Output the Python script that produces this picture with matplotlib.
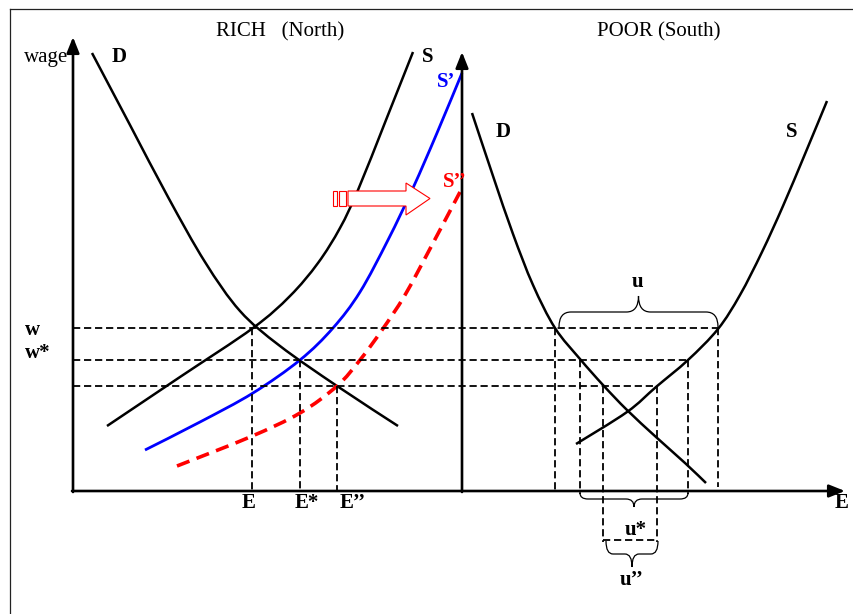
import matplotlib
matplotlib.use('Agg')
import matplotlib.pyplot as plt
import numpy as np
from matplotlib.path import Path
from matplotlib.patches import PathPatch, Polygon, Rectangle

plt.rcParams['font.family'] = ['Liberation Serif', 'DejaVu Serif']

# diagram units = pixels of the original drawing, y grows downward
W, H = 854, 614

# RICH (North) curves
rich_d_x = [92, 130, 168, 205, 240, 280, 337, 398]
rich_d_y = [53, 125, 197, 262, 311, 346, 386, 426]
rich_s_x = [107, 180, 253, 290, 318, 340, 358, 386, 413]
rich_s_y = [426, 377, 328, 296, 263, 228, 190, 120, 52]
rich_s1_x = [145, 200, 253, 300, 333, 360, 388, 413, 437, 462]
rich_s1_y = [450, 422, 393, 360, 328, 292, 240, 188, 133, 73]
rich_s2_x = [177, 250, 300, 337, 360, 382, 405, 432, 460]
rich_s2_y = [466, 437, 413, 386, 360, 330, 295, 245, 192]

# POOR (South) curves
poor_d_x = [472, 493, 513, 533, 555, 580, 603, 627, 656, 685, 706]
poor_d_y = [113, 176, 234, 285, 328, 359, 385, 410, 437, 463, 483]
poor_s_x = [576, 627, 656, 688, 718, 740, 762, 783, 805, 827]
poor_s_y = [444, 412, 387, 360, 329, 295, 252, 206, 154, 101]

# wage levels w, w*, w'' and the employment
wage_levels = [328, 360, 386]
rich_emp = [252, 300, 337]
south_demand_emp = [555, 580, 603]
south_supply_emp = [718, 688, 657]

# axes of the two panels
origin_x, origin_y = 73, 491
south_axis_x = 462
x_axis_end = 845
left_axis_top = 37
right_axis_top = 52

# shift arrow (outline)
shift_body = [(348, 191), (406, 191), (406, 183), (430, 198.5),
              (406, 215), (406, 206), (348, 206)]
shift_tail = [(333, 337), (339, 346)]


def curve(ax, xs, ys, **kw):
    """smooth line through the read points (Catmull-Rom as cubic Bezier)"""
    pts = np.column_stack([xs, ys]).astype(float)
    verts = [pts[0]]
    codes = [Path.MOVETO]
    n = len(pts)
    for i in range(n - 1):
        p0 = pts[max(i - 1, 0)]
        p1, p2 = pts[i], pts[i + 1]
        p3 = pts[min(i + 2, n - 1)]
        verts += [p1 + (p2 - p0) / 6.0, p2 - (p3 - p1) / 6.0, p2]
        codes += [Path.CURVE4] * 3
    ax.add_patch(PathPatch(Path(verts, codes), fc='none', joinstyle='round', **kw))


def brace(ax, x0, x1, y0, a, h, r, lw=0.9):
    """curly brace between x0 and x1, ends at y0, tip at y0 + h"""
    xm = (x0 + x1) / 2.0
    verts = [(x0, y0), (x0, y0 + a), (x0 + r, y0 + a),
             (xm - r, y0 + a),
             (xm, y0 + a), (xm, y0 + h),
             (xm, y0 + a), (xm + r, y0 + a),
             (x1 - r, y0 + a),
             (x1, y0 + a), (x1, y0)]
    codes = [Path.MOVETO, Path.CURVE3, Path.CURVE3,
             Path.LINETO,
             Path.CURVE3, Path.CURVE3,
             Path.CURVE3, Path.CURVE3,
             Path.LINETO,
             Path.CURVE3, Path.CURVE3]
    ax.add_patch(PathPatch(Path(verts, codes), fc='none', ec='black', lw=lw))


def arrow_axis(ax, start, end):
    ax.annotate('', xy=end, xytext=start,
                arrowprops=dict(arrowstyle='-|>,head_length=0.95,head_width=0.38',
                                mutation_scale=10, lw=1.9, color='black',
                                shrinkA=0, shrinkB=0))


fig = plt.figure(figsize=(W / 100, H / 100), dpi=100)
ax = fig.add_axes([0, 0, 1, 1])
ax.set_xlim(0, W)
ax.set_ylim(H, 0)
ax.axis('off')

# frame
ax.plot([10, 10], [9, H + 5], color='#222222', lw=0.9)
ax.plot([10, W + 5], [9, 9], color='#222222', lw=0.9)

dash = dict(color='black', lw=1.3, dashes=(4.0, 2.1))

# horizontal wage lines
for w, xe in zip(wage_levels, south_supply_emp):
    ax.plot([origin_x, xe], [w, w], **dash)

# vertical lines, North
for w, e in zip(wage_levels, rich_emp):
    ax.plot([e, e], [w, origin_y], **dash)

# vertical lines, South
south_bottoms_d = [origin_y, 494, 542]
south_bottoms_s = [487, 494, 542]
for w, e, b in zip(wage_levels, south_demand_emp, south_bottoms_d):
    ax.plot([e, e], [w, b], **dash)
for w, e, b in zip(wage_levels, south_supply_emp, south_bottoms_s):
    ax.plot([e, e], [w, b], **dash)
ax.plot([south_demand_emp[2], south_supply_emp[2]], [540, 540], **dash)

# curves
curve(ax, rich_d_x, rich_d_y, ec='black', lw=1.8)
curve(ax, rich_s_x, rich_s_y, ec='black', lw=1.8)
curve(ax, rich_s1_x, rich_s1_y, ec='#0000ff', lw=2.0)
curve(ax, rich_s2_x, rich_s2_y, ec='#ff0000', lw=2.6, linestyle=(0, (3.7, 2.1)))
curve(ax, poor_d_x, poor_d_y, ec='black', lw=1.8)
curve(ax, poor_s_x, poor_s_y, ec='black', lw=1.8)

# axes
arrow_axis(ax, (origin_x, origin_y + 1), (origin_x, left_axis_top))
arrow_axis(ax, (south_axis_x, origin_y + 1), (south_axis_x, right_axis_top))
arrow_axis(ax, (origin_x - 1, origin_y), (x_axis_end, origin_y))

# shift arrow
ax.add_patch(Polygon(shift_body, closed=True, fc='white', ec='#ff0000', lw=0.8))
for xa, xb in shift_tail:
    ax.add_patch(Rectangle((xa, 191), xb - xa, 15, fc='white', ec='#ff0000', lw=0.8))

# braces
brace(ax, 559, 718, 327, -15, -31, 12)
brace(ax, 580, 688, 493, 6, 14, 8)
brace(ax, 606, 658, 541, 13, 26, 7)

# labels
fs = 15
bold = dict(fontsize=fs, fontweight='bold', va='baseline')
ax.text(280, 36, 'RICH   (North)', fontsize=fs, ha='center', va='baseline')
ax.text(659, 36, 'POOR (South)', fontsize=fs, ha='center', va='baseline')
ax.text(68, 62, 'wage', fontsize=fs, ha='right', va='baseline')
ax.text(112, 62, 'D', ha='left', **bold)
ax.text(422, 62, 'S', ha='left', **bold)
ax.text(437, 87, 'S’', ha='left', color='#0000ff', **bold)
ax.text(443, 187, 'S’’', ha='left', color='#ff0000', **bold)
ax.text(496, 137, 'D', ha='left', **bold)
ax.text(786, 137, 'S', ha='left', **bold)
ax.text(25, 335, 'w', ha='left', **bold)
ax.text(25, 358, 'w*', ha='left', **bold)
for lbl, x in zip(['E', 'E*', 'E’’'], [249, 307, 353]):
    ax.text(x, 508, lbl, ha='center', **bold)
ax.text(835, 508, 'E', ha='left', **bold)
ax.text(638, 287, 'u', ha='center', **bold)
ax.text(636, 535, 'u*', ha='center', **bold)
ax.text(632, 585, 'u’’', ha='center', **bold)

fig.savefig('out.png', dpi=100)
